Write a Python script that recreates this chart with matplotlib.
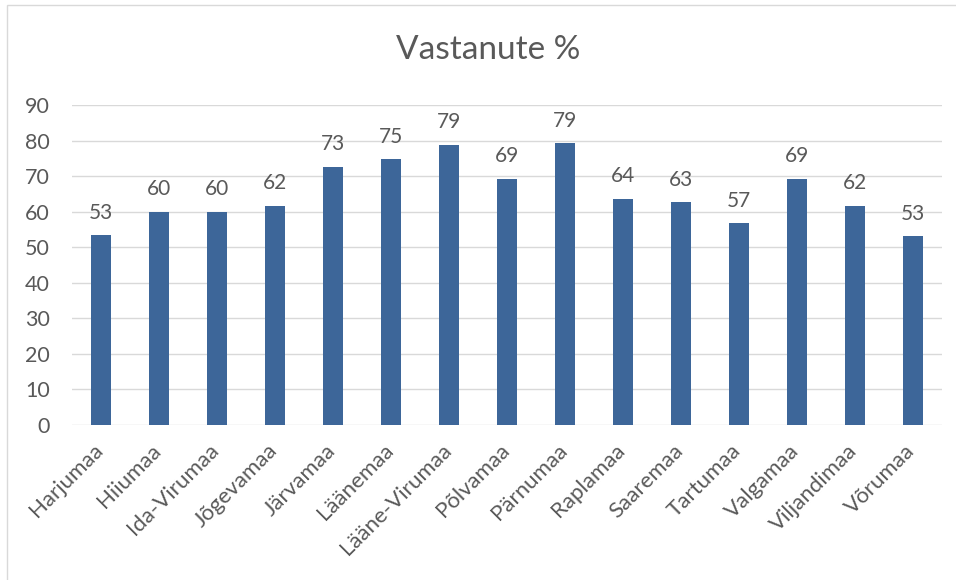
import matplotlib
matplotlib.use("Agg")
import matplotlib.pyplot as plt
from matplotlib.patches import Rectangle
from matplotlib.transforms import ScaledTranslation

counties = ["Harjumaa", "Hiiumaa", "Ida-Virumaa", "Jõgevamaa", "Järvamaa", "Läänemaa",
            "Lääne-Virumaa", "Põlvamaa", "Pärnumaa", "Raplamaa", "Saaremaa", "Tartumaa",
            "Valgamaa", "Viljandimaa", "Võrumaa"]
respondents_pct = [53.4, 60.0, 60.0, 61.7, 72.6, 74.8, 78.8, 69.3, 79.3, 63.6, 62.6, 56.7,
                   69.3, 61.7, 53.1]
yticks = list(range(0, 100, 10))

bar_color = "#3d6699"
text_color = "#595959"
grid_color = "#d9d9d9"

plt.rcParams['font.family'] = ['Lato', 'DejaVu Sans']

fig = plt.figure(figsize=(9.56, 5.8), dpi=100)
ax = fig.add_axes([72 / 956, 1 - 425 / 580, 870 / 956, 320 / 580])

x = range(len(counties))
bars = ax.bar(x, respondents_pct, width=0.33, color=bar_color, zorder=3)
for b, v in zip(bars, respondents_pct):
    ax.annotate(f"{v:.0f}", (b.get_x() + b.get_width() / 2, v), xytext=(0, 9),
                textcoords="offset points", ha="center", va="bottom",
                fontsize=15, color=text_color)

ax.set_xlim(-0.5, len(counties) - 0.5)
ax.set_ylim(0, 90)
ax.set_yticks(yticks)
ax.set_xticks(list(x))
ax.set_xticklabels(counties, rotation=45, ha="right", rotation_mode="anchor")
ax.tick_params(axis="both", length=0, labelcolor=text_color)
ax.tick_params(axis="y", pad=16, labelsize=15.5)
ax.tick_params(axis="x", pad=11, labelsize=16)
# nudge rotated labels so their top end sits under the bar
shift = ScaledTranslation(-8 / 100, 0, fig.dpi_scale_trans)
for lbl in ax.get_xticklabels():
    lbl.set_transform(lbl.get_transform() + shift)
ax.grid(axis="y", color=grid_color, linewidth=1, zorder=0)
for s in ax.spines.values():
    s.set_visible(False)

fig.text(488 / 956, 1 - 50 / 580, "Vastanute %", ha="center", va="center",
         fontsize=24, color=text_color)

# thin chart border like the spreadsheet frame
fig.patches.append(Rectangle((7 / 956, -0.01), 1.0, 1 - 5 / 580 + 0.01,
                             transform=fig.transFigure, fill=False,
                             edgecolor="#d9d9d9", linewidth=1))

fig.savefig("out.png", dpi=100)
